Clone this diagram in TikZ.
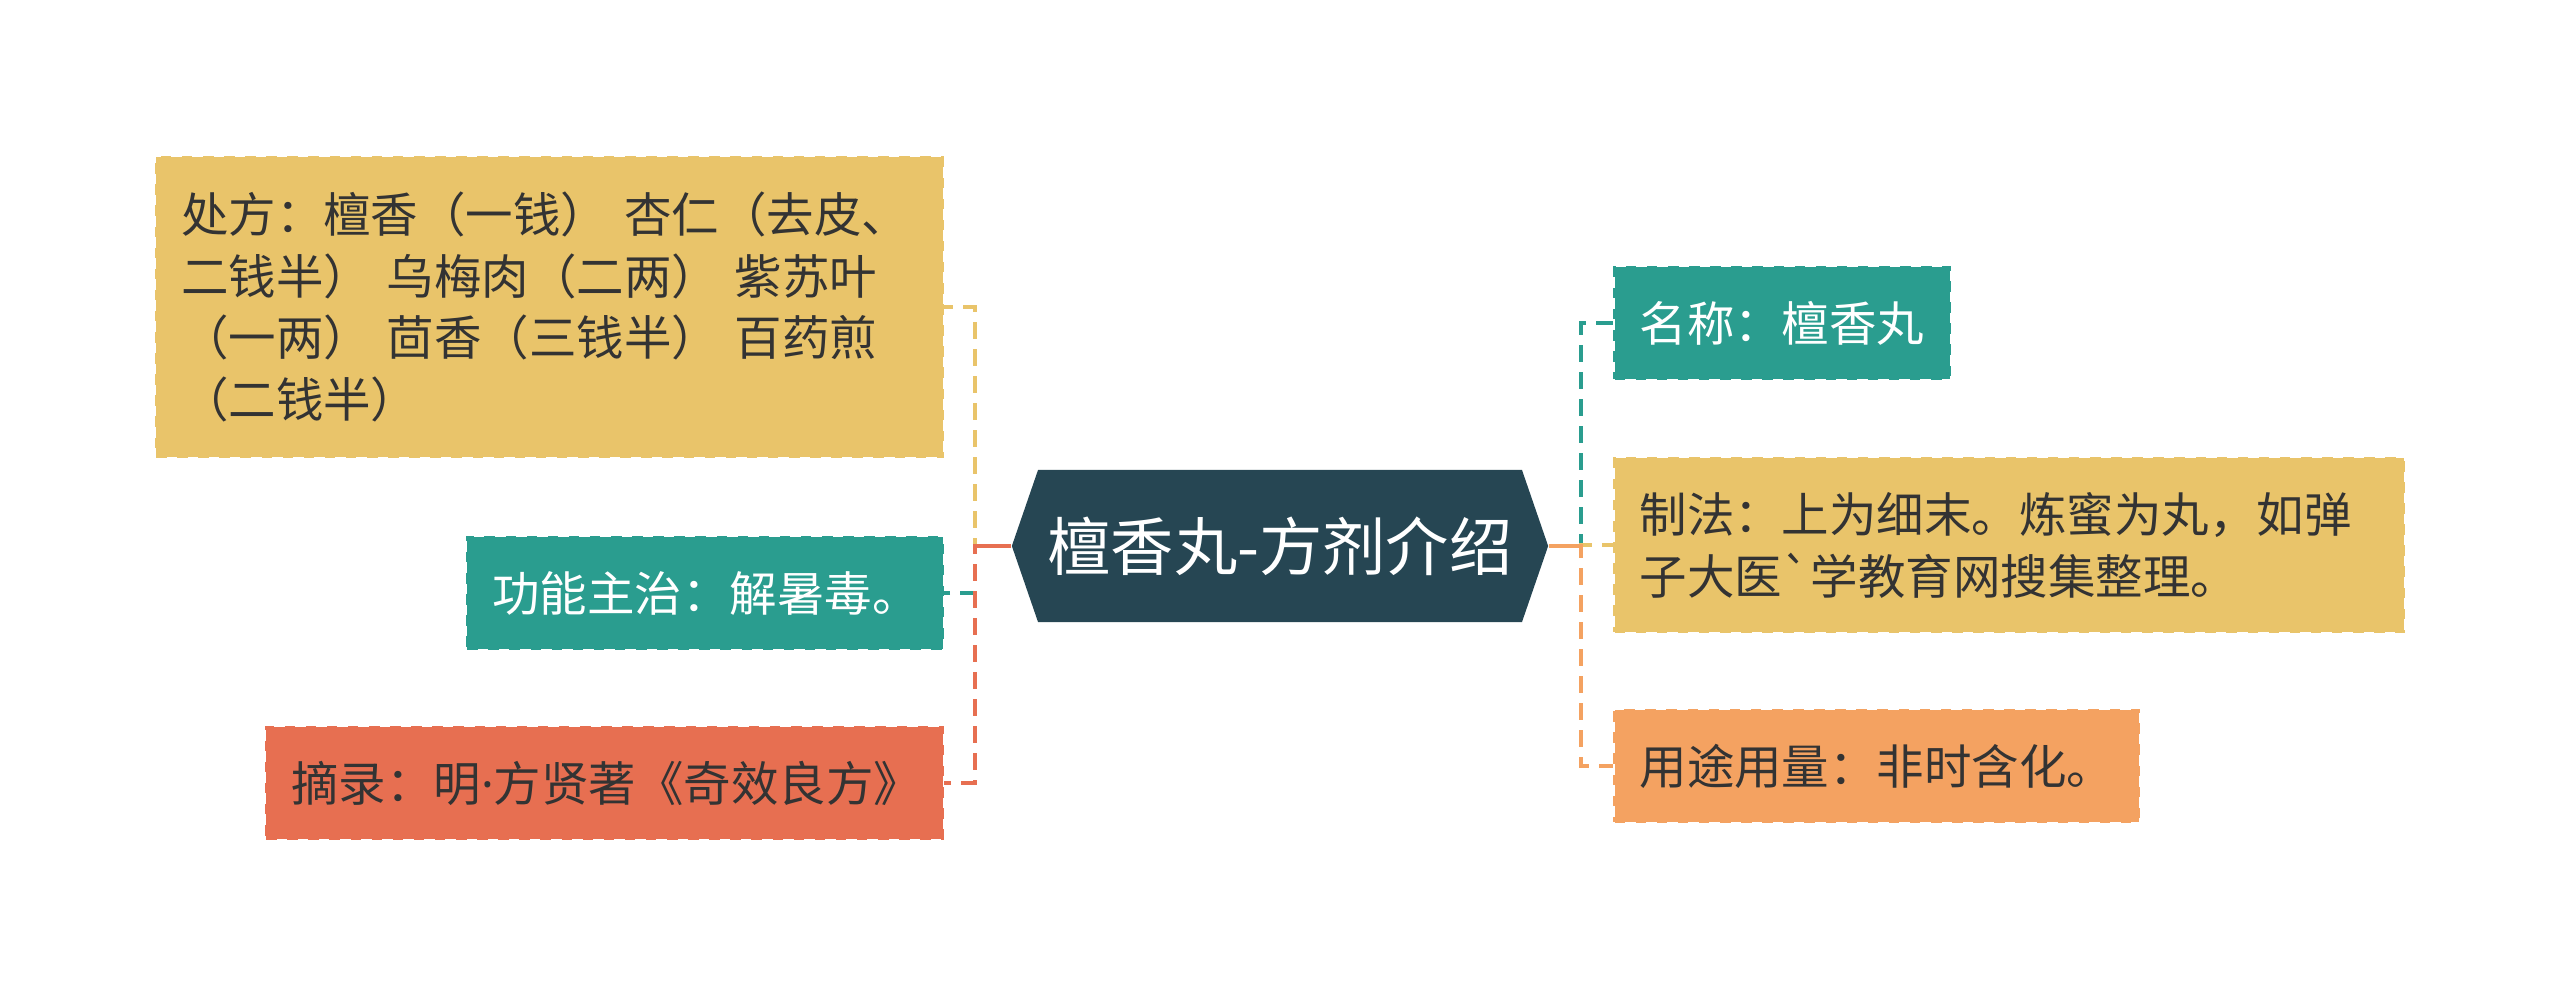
\documentclass[tikz,border=0pt]{standalone}
\usepackage{fontspec}
\newfontfamily\cjk{Noto Sans CJK SC}
\newfontfamily\xiwen{Noto Sans}
\usetikzlibrary{shapes.symbols}
\definecolor{huang}{HTML}{E9C46A}
\definecolor{lv}{HTML}{2A9D8F}
\definecolor{hong}{HTML}{E76F51}
\definecolor{cheng}{HTML}{F4A261}
\definecolor{shen}{HTML}{264653}
\definecolor{wenzi}{HTML}{333333}

\begin{document}
\begin{tikzpicture}[
      x=0.01cm, y=-0.01cm,
      kuang/.style={dashed, line width=0.03cm, inner xsep=0.25cm, inner ysep=0pt,
                    minimum height=1.11cm, align=left, text=wenzi,
                    font=\cjk\fontsize{13.5pt}{17.6pt}\selectfont},
      zhuti/.style={signal, signal to=west and east, signal pointer angle=142,
                    fill=shen, text=white, inner sep=0pt,
                    minimum width=5.36cm, minimum height=1.52cm,
                    font=\cjk\fontsize{18pt}{22pt}\selectfont},
      lian/.style={line width=0.04cm, dash pattern=on 0.17cm off 0.1cm}
  ]
      \useasboundingbox (0,0) rectangle (2560,997);

      % Zhongxin
      \node[zhuti] (zhuti) at (1280,546) {檀香丸-方剂介绍};

      % Zuobian
      \node[kuang, draw=huang, fill=huang, anchor=east, text width=7.36cm,
            minimum height=2.99cm] (chufang) at (944,307)
        {处方：檀香（一钱） 杏仁（去皮、\\二钱半） 乌梅肉（二两） 紫苏叶\\（一两） 茴香（三钱半） 百药煎\\（二钱半）};
      \node[kuang, draw=lv, fill=lv, text=white, anchor=east, text width=4.25cm]
        (gongneng) at (944,593) {功能主治：解暑毒。};
      \node[kuang, draw=hong, fill=hong, anchor=east, text width=6.26cm]
        (zhailu) at (944,783) {摘录：明{\xiwen ·}方贤著《奇效良方》};

      % Youbian
      \node[kuang, draw=lv, fill=lv, text=white, anchor=west, text width=2.85cm]
        (mingcheng) at (1613,323) {名称：檀香丸};
      \node[kuang, draw=huang, fill=huang, anchor=west, text width=7.39cm,
            minimum height=1.73cm] (zhifa) at (1613,545)
        {制法：上为细末。炼蜜为丸，如弹\\子大医\symbol{96}学教育网搜集整理。};
      \node[kuang, draw=cheng, fill=cheng, anchor=west, text width=4.74cm]
        (yongtu) at (1613,766) {用途用量：非时含化。};

      % Lianxian
      \draw[lian, huang] (zhuti.west) -- ++(-36,0) |- (chufang.east);
      \draw[lian, lv]    (zhuti.west) -- ++(-36,0) |- (gongneng.east);
      \draw[lian, hong]  (zhuti.west) -- ++(-36,0) |- (zhailu.east);
      \draw[line width=0.04cm, hong] (zhuti.west) -- ++(-36,0);

      \draw[lian, lv]    (zhuti.east) -- ++(32,0) |- (mingcheng.west);
      \draw[lian, huang] (zhuti.east) -- ++(32,0) |- (zhifa.west);
      \draw[lian, cheng] (zhuti.east) -- ++(32,0) |- (yongtu.west);
      \draw[line width=0.04cm, cheng] (zhuti.east) -- ++(32,0);
  \end{tikzpicture}
\end{document}
